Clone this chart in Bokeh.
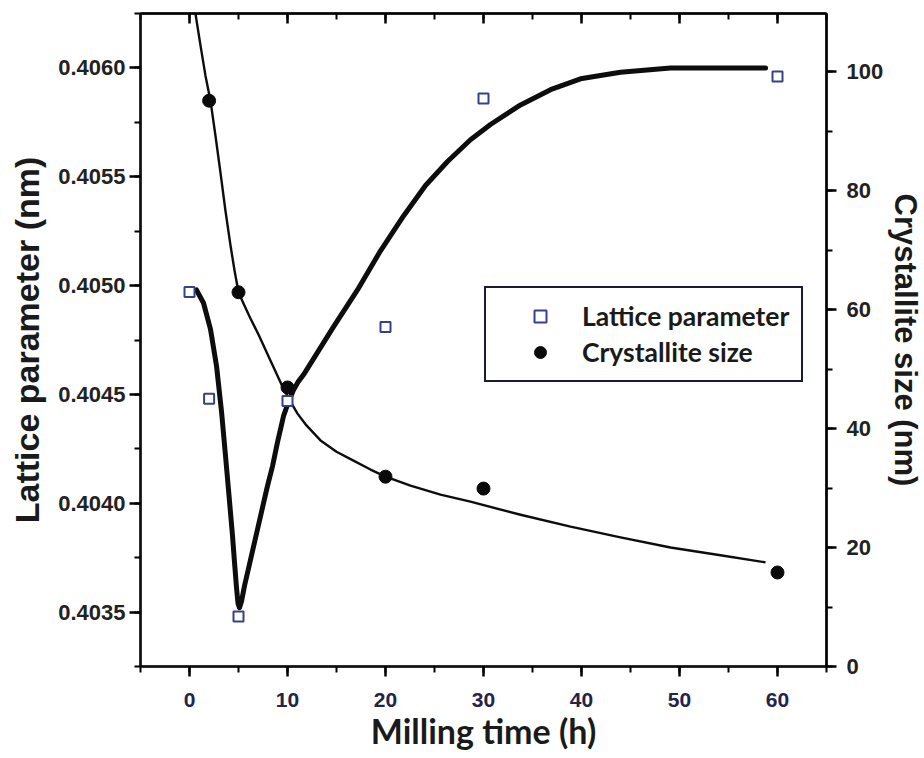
from bokeh.plotting import figure
from bokeh.models import (Range1d, LinearAxis, SingleIntervalTicker,
                          PrintfTickFormatter, Legend, LegendItem,
                          CustomJSTickFormatter)
from bokeh.embed import file_html
from bokeh.resources import INLINE

# ---- data ----
milling_time = [0, 2, 5, 10, 20, 30, 60]
lattice_param = [0.40497, 0.40448, 0.40348, 0.40447, 0.40481, 0.40586, 0.40596]

cryst_time = [2, 5, 10, 20, 30, 60]
cryst_size = [95.1, 62.9, 46.9, 31.9, 29.9, 15.8]

# fitted curves
lat_fit_time = [0.71, 1.43, 2.14, 2.76, 3.27, 3.67, 4.08, 4.39, 4.59, 4.80, 4.95,
                5.10, 5.31, 5.61, 6.02, 6.53, 7.04, 7.55, 7.96, 8.47, 8.98, 9.59,
                10.1, 10.61, 11.12, 11.63, 13.16, 14.69, 17.14, 19.49, 21.84,
                24.08, 26.33, 28.67, 30.71, 33.78, 36.84, 39.90, 43.98, 49.08,
                54.18, 58.78]
lat_fit_value = [0.40498, 0.40492, 0.40480, 0.40463, 0.40442, 0.40422, 0.40401,
                 0.40385, 0.40373, 0.40361, 0.40354, 0.40352, 0.40355, 0.40362,
                 0.40370, 0.40380, 0.40390, 0.40400, 0.40408, 0.40417, 0.40428,
                 0.40440, 0.404465, 0.40452, 0.40456, 0.40459, 0.40470, 0.40481,
                 0.40498, 0.40516, 0.40532, 0.40546, 0.40557, 0.40567, 0.40574,
                 0.40583, 0.40590, 0.40595, 0.40598, 0.40600, 0.40600, 0.40600]

cs_fit_time = [0.36, 0.61, 1.12, 1.63, 2.14, 2.65, 3.16, 3.67, 4.18, 4.59, 5.0,
               5.51, 6.22, 7.04, 8.27, 9.59, 10.31, 11.02, 11.84, 13.37, 15.0,
               16.73, 18.47, 20.0, 22.55, 25.61, 28.67, 33.78, 38.88, 43.98,
               49.08, 54.18, 58.78]
cs_fit_value = [111.9, 109.7, 104.4, 99.3, 95.1, 89.2, 83.0, 76.6, 70.8, 66.6,
                62.9, 61.0, 58.5, 55.8, 51.4, 46.7, 44.5, 42.5, 40.7, 38.0, 36.1,
                34.6, 33.1, 31.9, 30.4, 28.9, 27.7, 25.5, 23.5, 21.7, 20.0, 18.7,
                17.5]

x_ticks_interval = 10
lat_tick_interval = 0.0005
cs_tick_interval = 20

TICK_FONT = "Liberation Sans"
TITLE_FONT = "Liberation Sans"
SEMI_FONT = "Lato"
SQ_COLOR = "#34428a"
INK = "#111111"

p = figure(frame_width=686, frame_height=653,
           x_range=Range1d(-5, 65), y_range=Range1d(0.40325, 0.40625),
           output_backend="svg", toolbar_location=None,
           min_border_left=140, min_border_right=98,
           min_border_top=13, min_border_bottom=92,
           background_fill_color="white", border_fill_color="white")
p.grid.visible = False
p.outline_line_color = INK
p.outline_line_width = 2

p.extra_y_ranges = {"cs": Range1d(0, 109.75)}

# bottom axis
xa = p.xaxis[0]
xa.ticker = SingleIntervalTicker(interval=x_ticks_interval, num_minor_ticks=2)
xa.axis_label = "Milling time (h)"
xa.axis_label_text_font = SEMI_FONT
xa.axis_label_text_font_style = "bold"
xa.axis_label_text_font_size = "34px"
xa.axis_label_text_color = "#1a1a1a"
xa.axis_label_standoff = 0
xa.major_label_text_font = TICK_FONT
xa.major_label_text_font_style = "bold"
xa.major_label_text_font_size = "21px"
xa.major_label_text_color = "#23244a"
xa.major_label_standoff = 16
xa.major_tick_out = 10
xa.major_tick_in = 0
xa.minor_tick_out = 6
xa.minor_tick_in = 0

# left axis
ya = p.yaxis[0]
ya.ticker = SingleIntervalTicker(interval=lat_tick_interval, num_minor_ticks=2)
ya.formatter = PrintfTickFormatter(format="%.4f")
ya.axis_label = "Lattice parameter (nm)"
ya.axis_label_text_font = TITLE_FONT
ya.axis_label_text_font_style = "bold"
ya.axis_label_text_font_size = "34px"
ya.axis_label_text_color = "#1a1a1a"
ya.axis_label_standoff = 9
ya.major_label_text_font = TICK_FONT
ya.major_label_text_font_style = "bold"
ya.major_label_text_font_size = "22px"
ya.major_label_text_color = "#222222"
ya.major_label_standoff = 4
ya.major_tick_out = 11
ya.major_tick_in = 0
ya.minor_tick_out = 6
ya.minor_tick_in = 0

for ax in (xa, ya):
    ax.axis_line_width = 2.5
    ax.major_tick_line_width = 2.5
    ax.minor_tick_line_width = 2
    ax.axis_line_color = INK

# right axis
ra = LinearAxis(y_range_name="cs",
                ticker=SingleIntervalTicker(interval=cs_tick_interval, num_minor_ticks=2),
                axis_label="Crystallite size (nm)")
ra.axis_label_text_font = TITLE_FONT
ra.axis_label_text_font_style = "bold"
ra.axis_label_text_font_size = "31px"
ra.axis_label_text_color = "#1a1a1a"
ra.axis_label_standoff = 2
ra.major_label_text_font = TICK_FONT
ra.major_label_text_font_style = "bold"
ra.major_label_text_font_size = "22px"
ra.major_label_text_color = "#222222"
ra.major_label_standoff = 10
ra.major_tick_out = 10
ra.major_tick_in = 0
ra.minor_tick_out = 6
ra.minor_tick_in = 0
ra.axis_line_width = 2.5
ra.major_tick_line_width = 2.5
ra.minor_tick_line_width = 2
p.add_layout(ra, "right")

# top axis (ticks only, inward)
ta = LinearAxis(ticker=SingleIntervalTicker(interval=x_ticks_interval, num_minor_ticks=2),
                formatter=CustomJSTickFormatter(code="return ''"),
                major_label_standoff=0,
                major_tick_in=10, major_tick_out=0, minor_tick_in=6, minor_tick_out=0,
                axis_line_width=2.5, major_tick_line_width=2.5, minor_tick_line_width=2)
p.add_layout(ta, "above")

# curves
p.line(lat_fit_time, lat_fit_value, line_color="#0d0d0d", line_width=5,
       line_join="round", line_cap="round")
p.line(cs_fit_time, cs_fit_value, y_range_name="cs", line_color="#0d0d0d",
       line_width=2.4, line_join="round")

# points
r_cs = p.scatter(cryst_time, cryst_size, y_range_name="cs", marker="circle",
                 size=13, fill_color="#0a0a0a", line_color="#0a0a0a")
r_lat = p.scatter(milling_time, lattice_param, marker="square", size=10,
                  fill_color="white", line_color=SQ_COLOR, line_width=2)

legend = Legend(items=[LegendItem(label="Lattice parameter", renderers=[r_lat]),
                       LegendItem(label="Crystallite size", renderers=[r_cs])],
                location=(344, 284), orientation="vertical",
                padding=12, margin=0, spacing=4,
                glyph_width=84, glyph_height=30, label_height=30,
                label_standoff=-4,
                label_text_font=SEMI_FONT, label_text_font_style="bold",
                label_text_font_size="26.5px", label_text_color="#1a1a1a",
                border_line_color="#1a1a3a", border_line_width=2.5,
                border_line_alpha=1.0,
                background_fill_color="white", background_fill_alpha=1.0)
p.add_layout(legend, "center")

open("out.html", "w").write(file_html(p, INLINE))
